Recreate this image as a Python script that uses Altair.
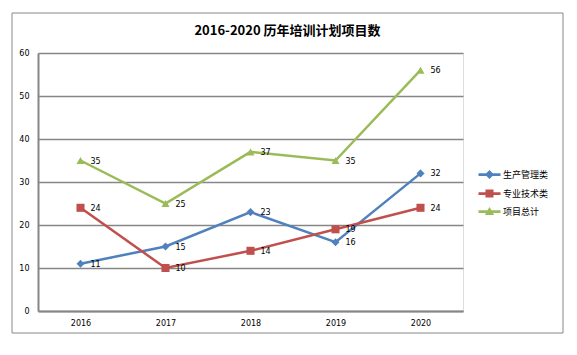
import altair as alt
import pandas as pd

years = ["2016", "2017", "2018", "2019", "2020"]
series_names = ["生产管理类", "专业技术类", "项目总计"]
mgmt = [11, 15, 23, 16, 32]
tech = [24, 10, 14, 19, 24]
total = [35, 25, 37, 35, 56]
colors = ["#4F81BD", "#C0504D", "#9BBB59"]
shapes = ["diamond", "square", "triangle-up"]

# legend symbols: a short line with the marker in the middle
LINE = "M-2,-0.25H2V0.25H-2Z"
legend_shapes = [
    LINE + "M0,-0.82L0.82,0L0,0.82L-0.82,0Z",
    LINE + "M-0.73,-0.73H0.73V0.73H-0.73Z",
    LINE + "M0,-0.8L0.85,0.65L-0.85,0.65Z",
]

rows = []
for name, vals in zip(series_names, [mgmt, tech, total]):
    for y, v in zip(years, vals):
        rows.append({"year": y, "series": name, "value": v})
df = pd.DataFrame(rows)

FONT = "Noto Sans CJK SC"

x_enc = alt.X("year:N", sort=years, title=None,
              scale=alt.Scale(paddingInner=0, paddingOuter=0.5),
              axis=alt.Axis(labelAngle=0, ticks=False, domain=True, domainColor="#868686",
                            domainWidth=2, labelFontSize=8, labelFont="DejaVu Sans",
                            labelPadding=8, labelColor="#000", grid=False))
y_enc = alt.Y("value:Q", title=None,
              scale=alt.Scale(domain=[0, 60], nice=False),
              axis=alt.Axis(values=[0, 10, 20, 30, 40, 50, 60], ticks=False, domain=True,
                            domainColor="#868686", domainWidth=2, gridColor="#868686",
                            gridWidth=1.5, labelFontSize=8, labelFont="DejaVu Sans",
                            labelPadding=9, labelColor="#000"))
color_scale = alt.Scale(domain=series_names, range=colors)

leg = alt.Legend(title=None, orient="none", legendX=445, legendY=115,
                 labelFont=FONT, labelFontSize=9, symbolSize=121,
                 labelOffset=7, rowPadding=3, labelColor="#000")

base = alt.Chart(df)

lines = base.mark_line(strokeWidth=2.5).encode(
    x=x_enc, y=y_enc,
    color=alt.Color("series:N", scale=color_scale, sort=series_names, legend=None),
    detail="series:N",
)

points = base.mark_point(filled=True, size=65, opacity=1).encode(
    x=x_enc, y=y_enc,
    color=alt.Color("series:N", scale=color_scale, sort=series_names, legend=None),
    shape=alt.Shape("series:N", scale=alt.Scale(domain=series_names, range=shapes),
                    legend=None),
)

legend_layer = base.transform_filter("false").mark_point(filled=True, opacity=1).encode(
    x=x_enc, y=y_enc,
    fill=alt.Fill("series:N", scale=alt.Scale(domain=series_names, range=colors),
                  sort=series_names, legend=leg),
    shape=alt.Shape("series:N", scale=alt.Scale(domain=series_names, range=legend_shapes),
                    sort=series_names, legend=leg),
)

labels = base.mark_text(align="left", baseline="middle", dx=10, dy=1, fontSize=8,
                        font="DejaVu Sans", color="#000").encode(
    x=x_enc, y=y_enc, text="value:Q", detail="series:N"
)

frame = alt.Chart(pd.DataFrame({"a": [0]})).mark_rect(fill=None, stroke="#888888", strokeWidth=1).encode(
    x=alt.value(-26), x2=alt.value(525), y=alt.value(-40), y2=alt.value(280)
)

chart = alt.layer(frame, lines, points, legend_layer, labels).resolve_scale(
    shape="independent", fill="independent"
).properties(
    width=425, height=258,
    title=alt.TitleParams("2016-2020 历年培训计划项目数", font=FONT, fontSize=13,
                          fontWeight="bold", color="#000", anchor="middle", dx=37,
                          offset=-25),
    autosize=alt.AutoSizeParams(type="none"),
    padding={"left": 38, "top": 53, "right": 114, "bottom": 44},
).configure_view(stroke=None).configure(background="white")

chart.save("out.html", embed_options={"renderer": "svg", "actions": False})
